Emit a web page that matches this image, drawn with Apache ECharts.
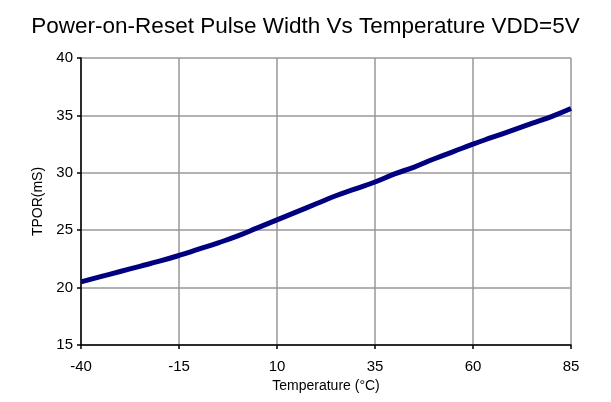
<!DOCTYPE html>
<html>
<head>
<meta charset="utf-8">
<script src="https://cdn.jsdelivr.net/npm/echarts@6/dist/echarts.min.js"></script>
<style>
  html, body { margin: 0; padding: 0; background: #fff; }
  #chart { width: 611px; height: 402px; }
</style>
</head>
<body>
<div id="chart"></div>
<script>
// temperature (°C) vs TPOR (mS)
const temps = [-40, -35, -30, -25, -20, -15, -10, -5, 0, 5, 10, 15, 20, 25, 30, 35, 40, 45, 50, 55, 60, 65, 70, 75, 80, 85]
const tpor = [20.5, 20.95, 21.4, 21.85, 22.3, 22.8, 23.35, 23.9, 24.5, 25.2, 25.9, 26.6, 27.3, 28.0, 28.6, 29.2, 29.9, 30.5, 31.2, 31.85, 32.5, 33.1, 33.7, 34.3, 34.9, 35.6]

const font = 'Liberation Sans, Arial, sans-serif'

const chart = echarts.init(document.getElementById('chart'))
const option = {
  animation: false,
  title: {
    text: 'Power-on-Reset Pulse Width Vs Temperature VDD=5V',
    left: 'center',
    top: 10,
    textStyle: { fontFamily: font, fontSize: 22.5, fontWeight: 'normal', color: '#000' }
  },
  grid: { left: 81, right: 40, top: 58, bottom: 57 },
  xAxis: {
    type: 'value',
    min: -40,
    max: 85,
    interval: 25,
    name: 'Temperature (°C)',
    nameLocation: 'middle',
    nameGap: 34,
    nameTextStyle: { fontFamily: font, fontSize: 14, color: '#000' },
    axisLine: { onZero: false, lineStyle: { color: '#000', width: 1.5 } },
    axisTick: { inside: false, length: 4, lineStyle: { color: '#000', width: 1.5 } },
    axisLabel: { fontFamily: font, fontSize: 15, color: '#000', margin: 14 },
    splitLine: { show: true, lineStyle: { color: '#999', width: 1.5 } }
  },
  yAxis: {
    type: 'value',
    min: 15,
    max: 40,
    interval: 5,
    name: 'TPOR(mS)',
    nameLocation: 'middle',
    nameGap: 32,
    nameTextStyle: { fontFamily: font, fontSize: 14, color: '#000' },
    axisLine: { show: true, onZero: false, lineStyle: { color: '#000', width: 1.5 } },
    axisTick: { show: true, inside: false, length: 4, lineStyle: { color: '#000', width: 1.5 } },
    axisLabel: { fontFamily: font, fontSize: 15, color: '#000', margin: 8 },
    splitLine: { show: true, lineStyle: { color: '#999', width: 1.5 } }
  },
  series: [
    {
      type: 'line',
      data: temps.map((t, i) => [t, tpor[i]]),
      symbol: 'none',
      smooth: true,
      clip: false,
      lineStyle: { color: '#000080', width: 5 }
    }
  ]
}
chart.setOption(option)
</script>
</body>
</html>
